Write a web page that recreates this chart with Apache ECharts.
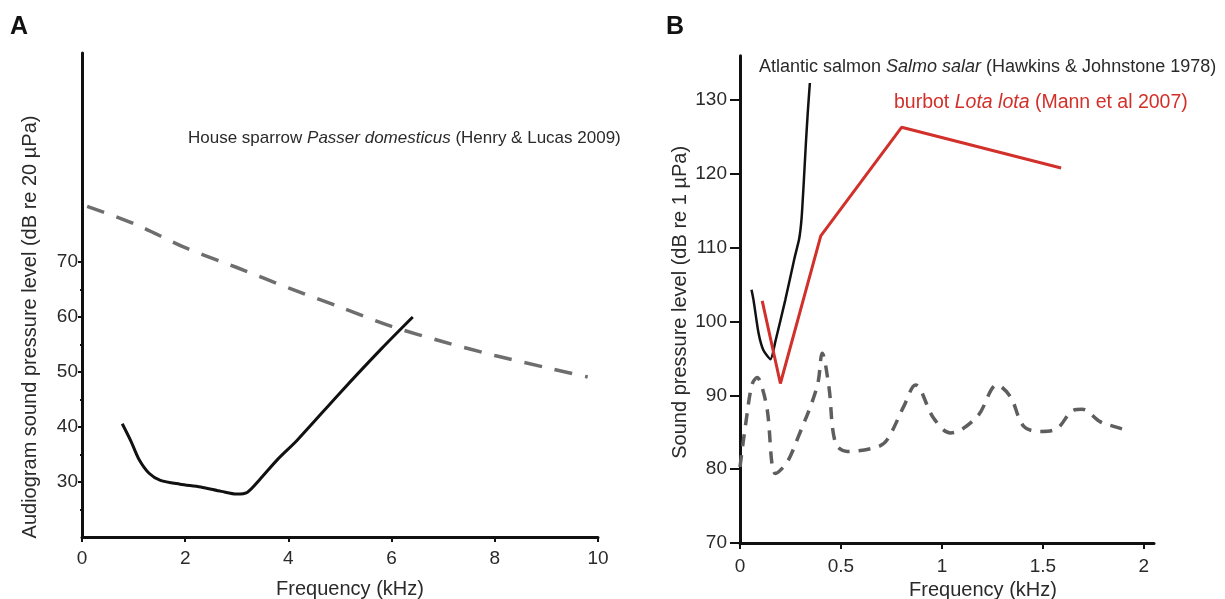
<!DOCTYPE html>
<html>
<head>
<meta charset="utf-8">
<script src="https://cdn.jsdelivr.net/npm/echarts@6/dist/echarts.min.js"></script>
<style>
html,body{margin:0;padding:0;background:#fff;}
#chart{width:1225px;height:599px;}
</style>
</head>
<body>
<div id="chart"></div>
<script>
// ---------- Panel A: house sparrow ----------
var sparrowFreq = [0.78, 0.95, 1.1, 1.3, 1.52, 1.9, 2.3, 2.7, 3.0, 3.2, 3.45, 3.8, 4.17, 5.0, 5.8, 6.41];
var sparrowDb   = [40.6, 37.4, 34.2, 31.6, 30.3, 29.6, 29.1, 28.3, 27.8, 28.1, 30.5, 34.2, 37.6, 46.2, 54.2, 60];
var noiseAFreq  = [0.1, 1, 2, 2.72, 3, 4, 5, 6, 7, 8, 9, 9.8];
var noiseADb    = [80.1, 77, 72.6, 70, 69, 65.3, 61.8, 58.3, 55.5, 53, 50.8, 49.1];
var xTicksA = [0, 2, 4, 6, 8, 10];
var yTicksA = [30, 40, 50, 60, 70];
var yMinorA = [25, 35, 45, 55, 65];

// ---------- Panel B: fish ----------
var salmonFreq = [0.057, 0.067, 0.092, 0.116, 0.151, 0.176, 0.225, 0.270, 0.293, 0.305, 0.316, 0.326, 0.336, 0.346];
var salmonDb   = [104.3, 102.9, 98.4, 96.1, 94.9, 97.4, 103.0, 108.6, 111.2, 114.0, 119.0, 124.0, 128.5, 132.3];
var burbotFreq = [0.11, 0.2, 0.4, 0.8, 1.59];
var burbotDb   = [102.8, 91.6, 111.6, 126.3, 120.8];
var noiseBFreq = [0, 0.03, 0.06, 0.085, 0.11, 0.135, 0.176, 0.23, 0.283, 0.382, 0.407, 0.44, 0.473, 0.531, 0.679, 0.729, 0.811, 0.869, 0.959, 1.042, 1.174, 1.273, 1.339, 1.405, 1.488, 1.570, 1.652, 1.694, 1.785, 1.850, 1.913];
var noiseBDb   = [80.3, 86.5, 91.5, 92.4, 91.0, 88.0, 79.4, 80.8, 84.0, 91.2, 95.7, 91.2, 83.5, 82.4, 83.0, 84.0, 88.5, 91.4, 86.9, 84.9, 87.1, 91.4, 89.8, 85.8, 85.1, 85.5, 88.0, 88.1, 86.4, 85.8, 85.3];
var xTicksB = [0, 0.5, 1, 1.5, 2];
var yTicksB = [70, 80, 90, 100, 110, 120, 130];

function zip(a, b) { return a.map(function (v, i) { return [v, b[i]]; }); }

var FONT = 'Liberation Sans, Arial, sans-serif';
var TXT = '#2a2a2a';
var RED = '#d2302a';

var chart = echarts.init(document.getElementById('chart'), null, {renderer: 'canvas'});

function baseAxis(extra) {
  var o = {
    type: 'value',
    splitLine: {show: false},
    axisLine: {show: true, lineStyle: {color: '#111', width: 3}},
    axisTick: {show: true, lineStyle: {color: '#111', width: 2}},
    axisLabel: {color: TXT, fontSize: 19, fontFamily: FONT},
    nameTextStyle: {color: TXT, fontSize: 20, fontFamily: FONT}
  };
  for (var k in extra) {
    if (typeof extra[k] === 'object' && o[k] && !Array.isArray(extra[k])) {
      o[k] = Object.assign({}, o[k], extra[k]);
    } else {
      o[k] = extra[k];
    }
  }
  return o;
}

function note(text, left, top, size, color) {
  return {text: text, left: left, top: top, padding: 0,
    textStyle: {fontSize: size, fontWeight: 'normal', color: color, fontFamily: FONT,
      rich: {i: {fontStyle: 'italic', fontSize: size, color: color, fontFamily: FONT}}}};
}

var option = {
  backgroundColor: '#fff',
  animation: false,
  textStyle: {fontFamily: FONT},
  title: [
    {text: 'A', left: 10, top: 15, padding: 0, textStyle: {fontSize: 25, fontWeight: 'bold', color: '#111', fontFamily: FONT}},
    {text: 'B', left: 666, top: 15, padding: 0, textStyle: {fontSize: 25, fontWeight: 'bold', color: '#111', fontFamily: FONT}},
    note('House sparrow {i|Passer domesticus} (Henry & Lucas 2009)', 188, 130, 17, TXT),
    note('Atlantic salmon {i|Salmo salar} (Hawkins & Johnstone 1978)', 759, 58, 18, TXT),
    note('burbot {i|Lota lota} (Mann et al 2007)', 894, 93, 19.5, RED)
  ],
  grid: [
    {left: 82, top: 53, width: 516, height: 484, outerBoundsMode: 'none', containLabel: false},
    {left: 740, top: 55.7, width: 414, height: 487.3, outerBoundsMode: 'none', containLabel: false}
  ],
  xAxis: [
    baseAxis({gridIndex: 0, min: 0, max: 10, interval: 2,
      axisTick: {length: 5, customValues: xTicksA},
      axisLabel: {margin: 12, customValues: xTicksA},
      name: 'Frequency (kHz)', nameLocation: 'middle', nameGap: 42,
      nameTextStyle: {padding: [0, 0, 0, 20]}}),
    baseAxis({gridIndex: 1, min: 0, max: 2.05,
      axisTick: {length: 6, customValues: xTicksB},
      axisLabel: {margin: 14, customValues: xTicksB},
      name: 'Frequency (kHz)', nameLocation: 'middle', nameGap: 35,
      nameTextStyle: {padding: [0, 0, 0, 72]}})
  ],
  yAxis: [
    baseAxis({gridIndex: 0, position: 'left', min: 20, max: 108,
      axisTick: {length: 4, customValues: yTicksA},
      axisLabel: {margin: 4, customValues: yTicksA},
      name: 'Audiogram sound pressure level (dB re 20 \u00b5Pa)', nameLocation: 'middle', nameGap: 42,
      nameTextStyle: {padding: [0, 64, 0, 0]}}),
    baseAxis({gridIndex: 0, position: 'left', min: 20, max: 108,
      axisLine: {show: false},
      axisTick: {length: 2, customValues: yMinorA},
      axisLabel: {show: false}}),
    baseAxis({gridIndex: 1, position: 'left', min: 70, max: 136,
      axisTick: {length: 10, customValues: yTicksB},
      axisLabel: {margin: 13, customValues: yTicksB},
      name: 'Sound pressure level (dB re 1 \u00b5Pa)', nameLocation: 'middle', nameGap: 50,
      nameTextStyle: {padding: [0, 6, 0, 0]}})
  ],
  series: [
    {type: 'line', xAxisIndex: 0, yAxisIndex: 0, data: zip(noiseAFreq, noiseADb), smooth: 0.3,
     showSymbol: false, lineStyle: {color: '#6e6e6e', width: 3.5, type: [18, 13]}, z: 2},
    {type: 'line', xAxisIndex: 0, yAxisIndex: 0, data: zip(sparrowFreq, sparrowDb), smooth: 0.3,
     showSymbol: false, lineStyle: {color: '#111', width: 3}, z: 3},
    {type: 'line', xAxisIndex: 1, yAxisIndex: 2, data: zip(noiseBFreq, noiseBDb), smooth: 0.35,
     showSymbol: false, lineStyle: {color: '#5e5e5e', width: 3.5, type: [12, 9]}, z: 2},
    {type: 'line', xAxisIndex: 1, yAxisIndex: 2, data: zip(salmonFreq, salmonDb), smooth: 0.2,
     showSymbol: false, lineStyle: {color: '#111', width: 2.5}, z: 3},
    {type: 'line', xAxisIndex: 1, yAxisIndex: 2, data: zip(burbotFreq, burbotDb), smooth: false,
     showSymbol: false, lineStyle: {color: RED, width: 3}, z: 4}
  ]
};
chart.setOption(option);
</script>
</body>
</html>
